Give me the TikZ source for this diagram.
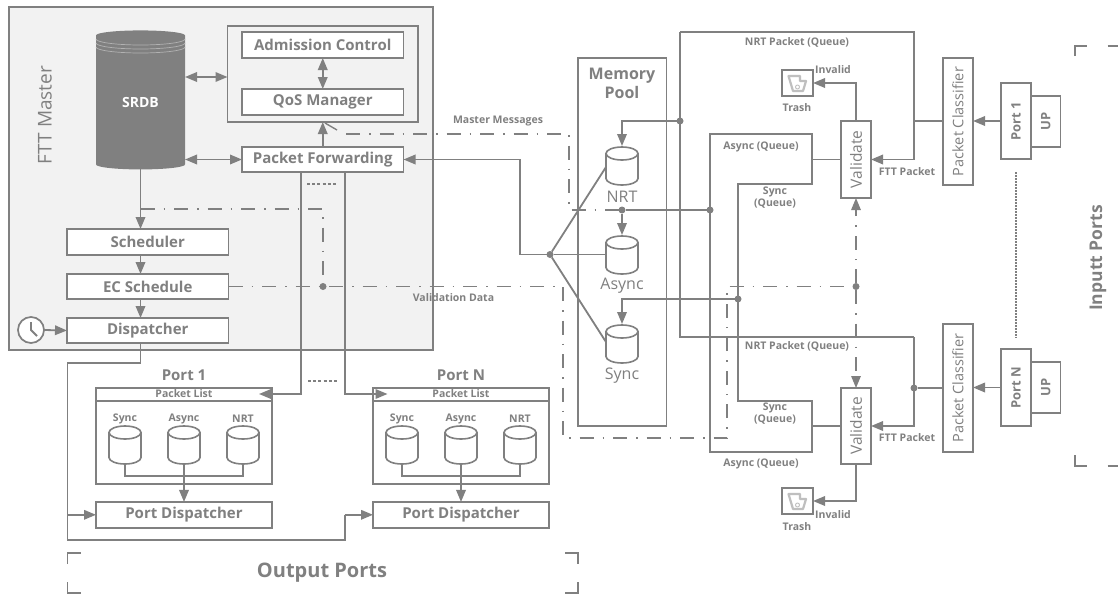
\documentclass[tikz,border=0pt]{standalone}
\usepackage{fontspec}
\usepackage{graphicx}
\setmainfont{Open Sans}
\usetikzlibrary{arrows.meta,shapes.geometric}
\definecolor{lc}{HTML}{808080}
\definecolor{tc}{HTML}{808080}
\newcommand{\fsz}[1]{\fontsize{#1}{#1}\selectfont}
\newcommand{\vtxt}[1]{\rotatebox{90}{#1}}
\tikzset{
 box/.style={draw=lc,line width=1.7pt,fill=white,rectangle,inner sep=0pt,outer sep=0pt,text=tc,align=center},
 lab/.style={box,font=\fsz{15}\bfseries},
 vlab/.style={box,font=\fsz{14.5}},
 plab/.style={box,font=\fsz{13}\bfseries},
 conn/.style={draw=lc,line width=1.8pt},
 arr/.style={conn,-{Triangle[length=12pt,width=9.5pt]}},
 darr/.style={conn,{Triangle[length=12pt,width=9.5pt]}-{Triangle[length=12pt,width=9.5pt]}},
 dashdot/.style={draw=lc,line width=1.5pt,dash pattern=on 14pt off 9pt on 1.5pt off 9pt},
 sdash/.style={draw=lc,line width=1.3pt,dash pattern=on 3pt off 2.2pt},
 dotv/.style={draw=lc,line width=1.5pt,dash pattern=on 1.5pt off 1.5pt},
 dotn/.style={circle,fill=lc,inner sep=0pt,minimum size=7pt,outer sep=0pt},
 txt/.style={text=tc,inner sep=0pt,align=center},
 small/.style={txt,font=\fsz{10.5}\bfseries},
 cylanchor/.style={rectangle,inner sep=0pt,outer sep=0pt,minimum width=32pt,minimum height=38pt},
 cylline/.style={draw=lc,line width=1.6pt,fill=white},
 brk/.style={draw=lc,line width=1.6pt},
}
% cylinder: name, centre x, centre y
\newcommand{\cylnode}[3]{%
 \node[cylanchor] (#1) at (#2,#3) {};
 \draw[cylline] (#2-16,#3-12.5) -- (#2-16,#3+12.5) arc[start angle=180,end angle=360,x radius=16pt,y radius=6.5pt] -- (#2+16,#3-12.5) arc[start angle=0,end angle=180,x radius=16pt,y radius=6.5pt] -- cycle;
 \draw[cylline,fill=none] (#2-16,#3-12.5) arc[start angle=180,end angle=360,x radius=16pt,y radius=6.5pt];
}
\begin{document}
\begin{tikzpicture}[x=1pt,y=-1pt]
\useasboundingbox (0,0) rectangle (1118,597);
% FTT master
\node[box,fill=black!5,minimum width=424pt,minimum height=343pt] (ftt) at (221,178.5) {};
\node[txt,font=\fsz{19}] (fttT) at (45,115) {\vtxt{FTT Master}};
\node[box,fill=black!5,minimum width=190.5pt,minimum height=96pt] (outer) at (322.75,74) {};
\node[lab,minimum width=161.5pt,minimum height=26pt] (adm) at (322.75,45) {Admission Control};
\node[lab,minimum width=161.5pt,minimum height=26pt] (qos) at (322.75,102) {QoS Manager};
\node[lab,minimum width=161.5pt,minimum height=25pt] (pf) at (322.75,159.5) {Packet Forwarding};
\node[lab,minimum width=161.5pt,minimum height=26pt] (sched) at (147.75,242) {Scheduler};
\node[lab,minimum width=161.5pt,minimum height=25pt] (ec) at (147.75,286.5) {EC Schedule};
\node[lab,minimum width=161.5pt,minimum height=25pt] (disp) at (147.75,330.5) {Dispatcher};
% SRDB
\node[cylinder,shape border rotate=90,aspect=0.27,draw=none,fill=lc,minimum width=89pt,minimum height=139pt,inner sep=0pt,outer sep=0pt,text=white,font=\fsz{14}\bfseries] (srdb) at (140.5,102.5) {SRDB};
\draw[black!30,line width=0.7pt] (96,39) arc[start angle=180,end angle=360,x radius=44.5pt,y radius=6pt];
\draw[black!30,line width=0.7pt] (96,43) arc[start angle=180,end angle=360,x radius=44.5pt,y radius=6pt];
\draw[black!30,line width=0.7pt] (96,47) arc[start angle=180,end angle=360,x radius=44.5pt,y radius=6pt];
% clock
\node[circle,draw=lc,line width=1.7pt,fill=white,minimum size=26pt,inner sep=0pt,outer sep=0pt] (clock) at (31,330) {};
\draw[conn] (31,322) -- (clock.center) -- (37,336);
\draw[arr] (clock.east) -- (disp.west);
% master connectors
\coordinate (dbq) at (185,77);
\coordinate (dbp) at (185,159.5);
\draw[darr] (dbq) -- (dbq -| outer.west);
\draw[darr] (dbp) -- (pf.west);
\draw[darr] (adm.south) -- (qos.north);
\draw[arr] (pf.north) -- (outer.south);
\draw[arr] (srdb.south) -- (srdb.south |- sched.north);
\draw[arr] (srdb.south |- sched.south) -- (srdb.south |- ec.north);
\draw[arr] (srdb.south |- ec.south) -- (srdb.south |- disp.north);
% memory pool
\node[box,minimum width=88.4pt,minimum height=368pt] (mem) at (622.2,242) {};
\node[txt,font=\fsz{16}\bfseries] (memT) at (622,83) {Memory\\[3pt]Pool};
\cylnode{cN}{622}{166}
\cylnode{cA}{622}{255}
\cylnode{cS}{622}{344}
\node[txt,font=\fsz{16}] (tN) at (622,197) {NRT};
\node[txt,font=\fsz{16}] (tA) at (622,286) {Async};
\node[txt,font=\fsz{16}] (tS) at (622,376) {Sync};
% junction
\node[dotn] (j) at (550,254.5) {};
\coordinate (ja) at (520,254.5);
\draw[arr] (j) -- (ja) -- (ja |- pf.east) -- (pf.east);
\draw[conn] (j) -- (606,167);
\draw[conn] (j) -- (606,254.5);
\draw[conn] (j) -- (606,342);
% right side nodes
\node[vlab,font=\fsz{15.5},minimum width=30pt,minimum height=77pt] (val1) at (856,159.5) {\vtxt{Validate}};
\node[vlab,font=\fsz{15.5},minimum width=30pt,minimum height=76pt] (valN) at (856,426) {\vtxt{Validate}};
\node[vlab,minimum width=30pt,minimum height=127pt] (pc1) at (958,121.5) {\vtxt{Packet Classifier}};
\node[vlab,minimum width=30pt,minimum height=128pt] (pc2) at (958,388) {\vtxt{Packet Classifier}};
\node[plab,minimum width=29.5pt,minimum height=51pt] (up1) at (1045.75,121.5) {\vtxt{UP}};
\node[plab,minimum width=29.5pt,minimum height=51pt] (upN) at (1045.75,387.5) {\vtxt{UP}};
\node[plab,minimum width=30pt,minimum height=76pt] (port1) at (1016,121) {\vtxt{Port 1}};
\node[plab,minimum width=30pt,minimum height=77pt] (portN) at (1016,387.5) {\vtxt{Port N}};
\draw[arr] (port1.west) -- (pc1.east |- port1.west);
\draw[arr] (portN.west) -- (pc2.east |- portN.west);
\coordinate (dv1) at (1016,172);
\coordinate (dv2) at (1016,338);
\draw[dotv] (dv1) -- (dv2);
% NRT queue loops
\coordinate (nTL) at (680,32);
\coordinate (nTR) at (914,32);
\coordinate (nBL) at (680,337);
\coordinate (nBR) at (914,337);
\draw[arr] (nTL) -- (nTR) -- (nTR |- val1.east) -- (val1.east);
\draw[conn] (pc1.west |- port1.west) -- (nTR |- port1.west);
\draw[conn] (nTL) -- (nBL) -- (nBR);
\draw[arr] (nBR) -- (nBR |- valN.east) -- (valN.east);
\node[dotn] (d1) at (nBR |- pc2.west) {};
\draw[conn] (d1) -- (pc2.west);
\node[dotn] (d2) at (680,121) {};
\draw[arr] (d2) -- (622,121) -- (622,146);
% async/sync queue loop
\coordinate (q1) at (710,134);
\coordinate (q2) at (812,134);
\coordinate (q3) at (812,184);
\coordinate (q4) at (738,184);
\coordinate (q5) at (738,401);
\coordinate (q6) at (812,401);
\coordinate (q7) at (812,452);
\coordinate (q8) at (710,452);
\draw[conn] (q1) -- (q2) -- (q3) -- (q4) -- (q5) -- (q6) -- (q7) -- (q8) -- cycle;
\draw[conn] (val1.west) -- (val1.west -| q2);
\draw[conn] (valN.west) -- (valN.west -| q6);
\node[dotn] (d3) at (710,210) {};
\node[dotn] (d4) at (622,210) {};
\draw[conn] (d3) -- (d4);
\draw[arr] (d4) -- (622,235);
\node[dotn] (d5) at (738,299) {};
\coordinate (d5b) at (622,299);
\draw[arr] (d5) -- (d5b) -- (622,324);
% trash
\node[box,minimum width=31pt,minimum height=26pt] (tr1) at (797.5,83) {};
\node[box,minimum width=31pt,minimum height=26pt] (tr2) at (797.5,501) {};
\foreach \cy in {83,501}{
 \draw[black!25,line width=2.2pt,line join=round] (788.5,\cy-7) -- (800,\cy-7) -- (800,\cy-2) -- (806,\cy-2) -- (803,\cy+8) -- (793,\cy+8) -- cycle;
 \draw[black!25,line width=0.9pt] (797.5,\cy+4) circle[radius=2pt];
}
\draw[arr] (val1.north) -- (val1.north |- tr1.east) -- (tr1.east);
\draw[arr] (valN.south) -- (valN.south |- tr2.east) -- (tr2.east);
% dash-dot lines
\node[dotn] (d6) at (323,286.5) {};
\node[dotn] (d7) at (856,286.5) {};
\coordinate (m1) at (346,134);
\coordinate (m2) at (569,134);
\coordinate (m3) at (569,210);
\draw[dashdot] (m1) -- (m2) -- (m3) -- (d4);
\draw[conn,line width=1.4pt] (325,123) -- (337,130);
\coordinate (s1) at (140.5,209);
\coordinate (s2) at (323,209);
\draw[dashdot] (s1) -- (s2) -- (d6);
\coordinate (v1) at (563,286.5);
\coordinate (v2) at (563,438);
\coordinate (v3) at (727,438);
\coordinate (v4) at (727,286.5);
\draw[dashdot] (ec.east) -- (v1) -- (v2) -- (v3) -- (v4) -- (d7);
\draw[dashdot,-{Triangle[length=12pt,width=9.5pt]}] (d7) -- (val1.south);
\draw[dashdot,-{Triangle[length=12pt,width=9.5pt]}] (d7) -- (valN.north);
\draw[sdash] (307,184) -- (338,184);
\draw[sdash] (308,381) -- (338,381);
% queue labels
\node[small] (l1) at (797,42) {NRT Packet (Queue)};
\node[small] (l2) at (797,346) {NRT Packet (Queue)};
\node[small] (l3) at (761,147) {Async (Queue)};
\node[small] (l4) at (761,464) {Async (Queue)};
\node[small] (l5) at (775,197.5) {Sync\\[2pt](Queue)};
\node[small] (l6) at (775,413.5) {Sync\\[2pt](Queue)};
\node[small] (l7) at (907,172) {FTT Packet};
\node[small] (l8) at (907,438) {FTT Packet};
\node[small] (l9) at (833,70) {Invalid};
\node[small] (l10) at (833,515) {Invalid};
\node[small] (l11) at (797,108) {Trash};
\node[small] (l12) at (797,527) {Trash};
\node[small] (l13) at (498,121) {Master Messages};
\node[small] (l14) at (453.5,298) {Validation Data};
% output ports
\node[txt,font=\fsz{15}\bfseries] (p1t) at (184,375) {Port 1};
\node[txt,font=\fsz{15}\bfseries] (pNt) at (461,375) {Port N};
\foreach \n/\x/\sx/\ax/\nx in {a/184/125/184/243,b/461/402/461/520}{
 \node[box,minimum width=176pt,minimum height=96pt] (pb\n) at (\x,435.7) {};
 \draw[conn] (pb\n.west |- 0,400.7) -- (pb\n.east |- 0,400.7);
 \node[small] (pl\n) at (\x,394) {Packet List};
 \node[small] (ls\n) at (\sx,419) {Sync};
 \node[small] (la\n) at (\ax,419) {Async};
 \node[small] (ln\n) at (\nx,419) {NRT};
 \cylnode{cs\n}{\sx}{445}
 \cylnode{ca\n}{\ax}{445}
 \cylnode{cn\n}{\nx}{445}
 \draw[conn] (cs\n.south) -- (\sx,476) -- (\nx,476) -- (cn\n.south);
 \node[lab,minimum width=176pt,minimum height=25.7pt] (pd\n) at (\x,514.8) {Port Dispatcher};
 \draw[arr] (ca\n.south) -- (pd\n.north);
}
% feeds from packet forwarding
\coordinate (f1) at (301,172);
\coordinate (f2) at (345,172);
\coordinate (fa) at (259,394);
\coordinate (fb) at (387.5,394);
\draw[arr] (f1) -- (f1 |- fa) -- (fa);
\draw[arr] (f2) -- (f2 |- fb) -- (fb);
% dispatcher feed
\coordinate (g1) at (140.5,362.7);
\coordinate (g2) at (67.5,362.7);
\coordinate (g3) at (67.5,540);
\coordinate (g4) at (344.6,540);
\draw[conn] (srdb.south |- disp.south) -- (g1) -- (g2) -- (g3) -- (g4) -- (g4 |- pdb.west);
\draw[arr] (g4 |- pdb.west) -- (pdb.west);
\draw[arr] (g2 |- pda.west) -- (pda.west);
% output bracket
\draw[brk] (67.5,564) -- (67.5,553) -- (81,553);
\draw[brk] (565,553) -- (578,553) -- (578,564);
\draw[brk] (67.5,582) -- (67.5,593) -- (81,593);
\draw[brk] (565,593) -- (578,593) -- (578,582);
\node[txt,font=\fsz{20}\bfseries] (opT) at (322,573) {Output Ports};
% input bracket
\draw[brk] (1075,56) -- (1075,46) -- (1087,46);
\draw[brk] (1107.5,46) -- (1118,46);
\draw[brk] (1075,455) -- (1075,466) -- (1087,466);
\draw[brk] (1107.5,466) -- (1118,466);
\node[txt,font=\fsz{17.5}\bfseries] (ipT) at (1098,258) {\vtxt{Inputt Ports}};
\end{tikzpicture}
\end{document}
